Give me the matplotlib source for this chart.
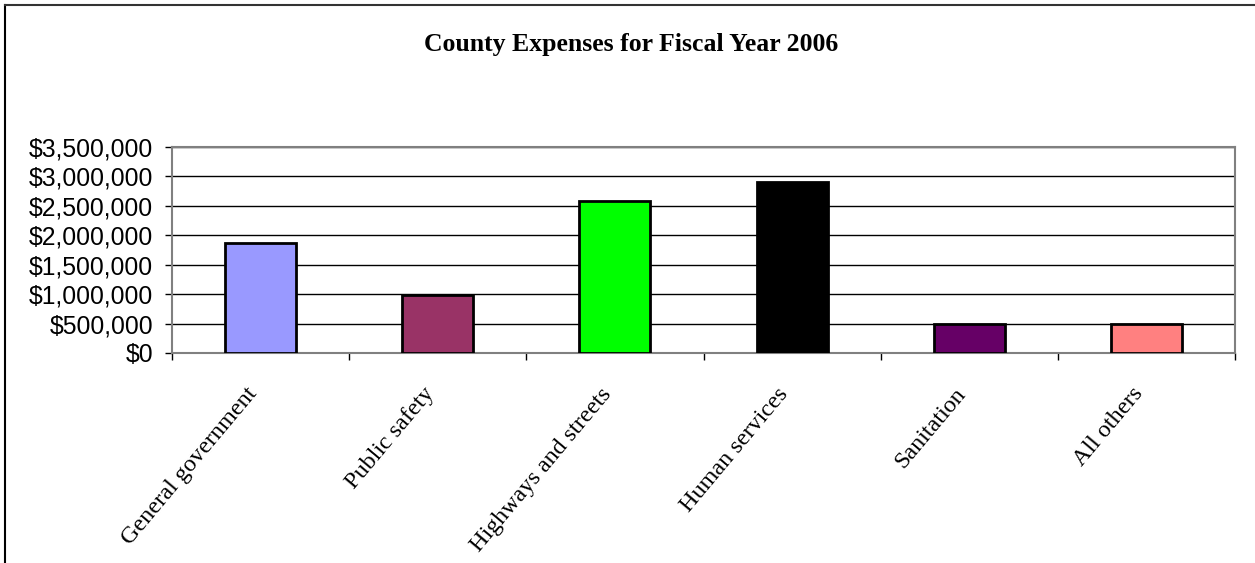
import matplotlib
matplotlib.use('Agg')
import matplotlib.pyplot as plt
import matplotlib.transforms as mtransforms
from matplotlib.lines import Line2D
from matplotlib.ticker import FuncFormatter, MultipleLocator
import numpy as np

# data
categories = ['General government', 'Public safety', 'Highways and streets',
              'Human services', 'Sanitation', 'All others']
expenses = [1865000, 990000, 2580000, 2905000, 500000, 500000]
bar_colors = ['#9999FF', '#993366', '#00FF00', '#000000', '#660066', '#FF8080']

fig = plt.figure(figsize=(12.55, 5.63), dpi=100)
ax = fig.add_axes([172/1255, 1 - 353/563, 1063/1255, 206/563])

x = np.arange(len(categories))
ax.bar(x, expenses, width=0.4, color=bar_colors, edgecolor='black',
       linewidth=2, zorder=3)

ax.set_xlim(-0.5, len(categories) - 0.5)
ax.set_ylim(0, 3500000)
ax.yaxis.set_major_locator(MultipleLocator(500000))
ax.yaxis.set_major_formatter(FuncFormatter(lambda v, p: '${:,.0f}'.format(v)))
ax.grid(axis='y', color='black', linewidth=1, zorder=1)

# category boundaries carry the x ticks, labels sit at bar centres
ax.set_xticks(np.arange(len(categories) + 1) - 0.5)
ax.set_xticklabels([])
ax.set_xticks(x, minor=True)
ax.set_xticklabels(categories, minor=True, rotation=50, ha='right',
                   va='baseline', rotation_mode='anchor',
                   fontfamily='Liberation Serif', fontsize=17.4)
ax.tick_params(axis='x', which='minor', length=0, pad=29.5)
ax.tick_params(axis='x', which='major', length=5, width=1, color='black')
ax.tick_params(axis='y', length=5, width=1, labelsize=17.8, pad=8.5)
for lab in ax.get_yticklabels():
    lab.set_fontfamily('Liberation Sans')
# nudge rotated labels a little left, as in the original
shift = mtransforms.ScaledTranslation(-3/100, 0, fig.dpi_scale_trans)
for lab in ax.get_xticklabels(minor=True):
    lab.set_transform(lab.get_transform() + shift)

for side in ['top', 'right', 'left', 'bottom']:
    ax.spines[side].set_color('#808080')
    ax.spines[side].set_linewidth(1.5)

fig.text(631/1255, 1 - 45/563, 'County Expenses for Fiscal Year 2006',
         ha='center', va='center', fontsize=18.5, fontweight='bold',
         fontfamily='Liberation Serif')

# outer chart frame (left and top edges visible)
fig.add_artist(Line2D([5/1255, 5/1255], [0, 1 - 5/563], color='black',
                      linewidth=1.5, transform=fig.transFigure))
fig.add_artist(Line2D([5/1255, 1], [1 - 5/563, 1 - 5/563], color='#333333',
                      linewidth=1.5, transform=fig.transFigure))

fig.savefig('out.png', dpi=100)
